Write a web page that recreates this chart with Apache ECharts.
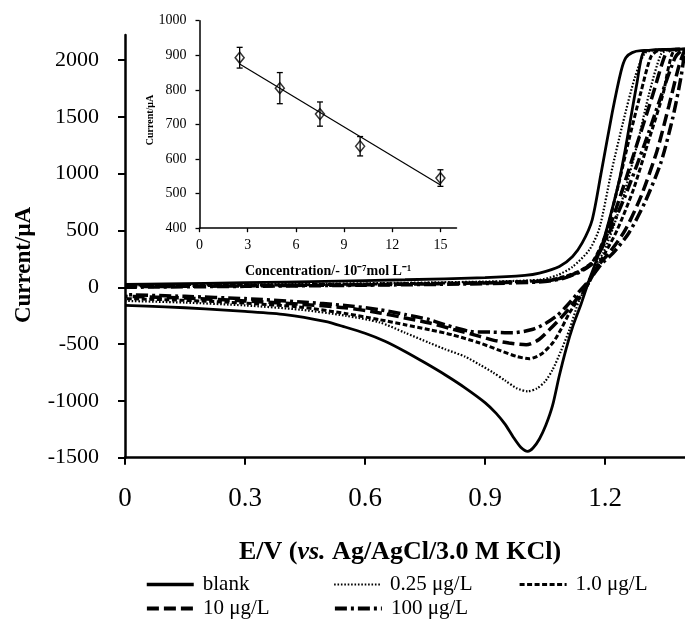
<!DOCTYPE html>
<html><head><meta charset="utf-8">
<script src="https://cdn.jsdelivr.net/npm/echarts@6/dist/echarts.min.js"></script>
<style>html,body{margin:0;padding:0;background:#fff}#c{width:685px;height:622px}</style>
</head><body><div id="c"></div>
<script>
// ---- tick values ----
const potentialTicks = [0, 0.3, 0.6, 0.9, 1.2];
const currentTicks = [-1500, -1000, -500, 0, 500, 1000, 1500, 2000];
const insetXTicks = [0, 3, 6, 9, 12, 15];
const insetYTicks = [400, 500, 600, 700, 800, 900, 1000];

// ---- blank ----
const blankFwdE = [0, 0.1, 0.3, 0.5, 0.7, 0.9, 1.0, 1.036, 1.086, 1.119, 1.143, 1.168, 1.19, 1.218, 1.24, 1.252, 1.268, 1.29, 1.4];
const blankFwdI = [25, 30, 40, 52, 66, 85, 105, 125, 183, 271, 390, 594, 1000, 1535, 1900, 2020, 2065, 2082, 2095];
const blankRevE = [1.4, 1.32, 1.295, 1.28, 1.265, 1.25, 1.236, 1.215, 1.195, 1.178, 1.16, 1.14, 1.12, 1.103, 1.085, 1.069, 1.052, 1.036, 1.02, 1.007, 0.99, 0.97, 0.95, 0.928, 0.9, 0.85, 0.8, 0.75, 0.7, 0.65, 0.6, 0.55, 0.5, 0.4, 0.3, 0.2, 0.1, 0];
const blankRevI = [2095, 2090, 2060, 1800, 1500, 1200, 945, 650, 400, 230, 60, -150, -340, -540, -790, -1040, -1215, -1335, -1415, -1444, -1410, -1315, -1205, -1110, -1015, -885, -770, -665, -565, -475, -405, -350, -300, -240, -212, -190, -172, -160];

// ---- 0.25 µg/L ----
const c025FwdE = [0, 0.3, 0.6, 0.9, 1.036, 1.08, 1.119, 1.161, 1.186, 1.215, 1.245, 1.275, 1.3, 1.33, 1.4];
const c025FwdI = [15, 25, 35, 50, 66, 105, 180, 330, 520, 1000, 1450, 1850, 2060, 2090, 2095];
const c025RevE = [1.4, 1.36, 1.34, 1.31, 1.28, 1.25, 1.22, 1.195, 1.178, 1.16, 1.136, 1.111, 1.09, 1.069, 1.05, 1.03, 1.007, 0.98, 0.95, 0.92, 0.887, 0.85, 0.8, 0.762, 0.7, 0.637, 0.55, 0.44, 0.3, 0.15, 0];
const c025RevI = [2095, 2090, 2050, 1700, 1250, 850, 520, 300, 200, 40, -110, -374, -560, -726, -830, -890, -916, -890, -820, -750, -682, -610, -545, -491, -400, -310, -250, -198, -160, -135, -120];

// ---- 1.0 µg/L ----
const c1FwdE = [0, 0.3, 0.6, 0.9, 1.05, 1.1, 1.14, 1.17, 1.2, 1.23, 1.26, 1.29, 1.315, 1.335, 1.4];
const c1FwdI = [10, 18, 28, 42, 60, 95, 150, 230, 450, 850, 1300, 1720, 2030, 2085, 2095];
const c1RevE = [1.4, 1.37, 1.345, 1.31, 1.27, 1.23, 1.2, 1.18, 1.16, 1.135, 1.111, 1.09, 1.069, 1.04, 1.011, 0.98, 0.94, 0.887, 0.82, 0.762, 0.7, 0.637, 0.55, 0.44, 0.3, 0.15, 0];
const c1RevI = [2095, 2070, 1700, 1300, 850, 500, 300, 180, 40, -100, -226, -370, -491, -590, -629, -610, -560, -491, -420, -374, -330, -286, -230, -175, -140, -115, -100];

// ---- 10 µg/L ----
const c10FwdE = [0, 0.3, 0.6, 0.9, 1.05, 1.1, 1.14, 1.17, 1.2, 1.24, 1.28, 1.32, 1.35, 1.365, 1.4];
const c10FwdI = [5, 12, 22, 38, 55, 88, 145, 220, 420, 820, 1260, 1700, 2040, 2090, 2095];
const c10RevE = [1.4, 1.385, 1.36, 1.33, 1.29, 1.25, 1.21, 1.185, 1.16, 1.13, 1.1, 1.069, 1.035, 1.003, 0.96, 0.92, 0.887, 0.82, 0.762, 0.7, 0.637, 0.55, 0.44, 0.3, 0.15, 0];
const c10RevI = [2095, 1950, 1600, 1200, 800, 500, 300, 200, 50, -100, -230, -345, -460, -506, -490, -465, -432, -370, -315, -270, -226, -180, -150, -120, -95, -80];

// ---- 100 µg/L ----
const c100FwdE = [0, 0.3, 0.6, 0.9, 1.05, 1.1, 1.14, 1.17, 1.2, 1.25, 1.3, 1.34, 1.375, 1.39, 1.4];
const c100FwdI = [0, 8, 18, 32, 50, 82, 140, 215, 400, 800, 1270, 1680, 2020, 2080, 2090];
const c100RevE = [1.4, 1.39, 1.37, 1.34, 1.3, 1.26, 1.22, 1.19, 1.16, 1.13, 1.103, 1.08, 1.053, 1.02, 0.97, 0.92, 0.862, 0.8, 0.762, 0.7, 0.637, 0.55, 0.44, 0.3, 0.15, 0];
const c100RevI = [2090, 1850, 1500, 1100, 750, 480, 300, 200, 60, -60, -169, -250, -315, -370, -400, -395, -388, -330, -286, -240, -198, -160, -130, -100, -80, -65];

// ---- inset calibration ----
const concX = [2.5, 5, 7.5, 10, 15];
const concI = [893, 805, 730, 637, 545];
const concErr = [30, 45, 35, 28, 24];
const fitX = [2.5, 15];
const fitI = [875, 525];

const legendNames = ['blank', '0.25 μg/L', '1.0 μg/L', '10 μg/L', '100 μg/L'];

function pairs(xs, ys) { return xs.map((x, k) => [x, ys[k]]); }
function loop(fe, fi, re, ri) { return pairs(fe, fi).concat(pairs(re, ri)); }

const SERIF = 'Liberation Serif';
const chart = echarts.init(document.getElementById('c'), null, {renderer: 'canvas'});

function cvSeries(name, data, width, type) {
  return {
    type: 'line', name: name, xAxisIndex: 0, yAxisIndex: 0, data: data,
    symbol: 'none', showSymbol: false, smooth: 0.25,
    lineStyle: {color: '#000', width: width, type: type, cap: 'butt'},
    itemStyle: {color: '#000'},
    emphasis: {disabled: true}
  };
}

function legendAt(name, left, top, lw) {
  return {
    data: [name], left: left, top: top,
    itemWidth: 47, itemHeight: 14, padding: 0, selectedMode: false,
    itemStyle: {opacity: 0},
    lineStyle: {width: lw},
    textStyle: {fontFamily: SERIF, fontSize: 21, color: '#000', padding: [0, 0, 0, 4]}
  };
}

const option = {
  animation: false,
  backgroundColor: '#fff',
  grid: [
    {left: 125, right: 0, top: 35, bottom: 164.3},
    {left: 199.5, top: 20.7, width: 257, height: 207.5}
  ],
  xAxis: [
    {type: 'value', gridIndex: 0, min: 0, max: 1.4,
     axisLine: {onZero: false, lineStyle: {color: '#000', width: 2.5}},
     axisTick: {customValues: potentialTicks, length: 7, lineStyle: {color: '#000', width: 2}},
     axisLabel: {customValues: potentialTicks, formatter: v => String(v), fontFamily: SERIF, fontSize: 27, color: '#000', margin: 28},
     splitLine: {show: false}},
    {type: 'value', gridIndex: 1, min: 0, max: 16,
     axisLine: {onZero: false, lineStyle: {color: '#000', width: 1.5}},
     axisTick: {customValues: insetXTicks, length: 4, lineStyle: {color: '#000', width: 1.3}},
     axisLabel: {customValues: insetXTicks, formatter: v => String(v), fontFamily: SERIF, fontSize: 14, color: '#000', margin: 10},
     splitLine: {show: false}}
  ],
  yAxis: [
    {type: 'value', gridIndex: 0, min: -1500, max: 2220,
     axisLine: {show: true, onZero: false, lineStyle: {color: '#000', width: 2.5}},
     axisTick: {show: true, customValues: currentTicks, length: 7, lineStyle: {color: '#000', width: 2}},
     axisLabel: {customValues: currentTicks, formatter: v => String(v), fontFamily: SERIF, fontSize: 22, color: '#000', margin: 26},
     splitLine: {show: false}},
    {type: 'value', gridIndex: 1, min: 400, max: 1000,
     axisLine: {show: true, onZero: false, lineStyle: {color: '#000', width: 1.5}},
     axisTick: {show: true, customValues: insetYTicks, length: 4, lineStyle: {color: '#000', width: 1.3}},
     axisLabel: {customValues: insetYTicks, formatter: v => String(v), fontFamily: SERIF, fontSize: 14, color: '#000', margin: 13},
     splitLine: {show: false}}
  ],
  legend: [
    legendAt(legendNames[0], 145, 574, 3.5),
    legendAt(legendNames[1], 333, 574, 2.2),
    legendAt(legendNames[2], 518, 574, 3.2),
    legendAt(legendNames[3], 145, 598, 3.8),
    legendAt(legendNames[4], 333, 598, 3.8)
  ],
  graphic: [
    {type: 'text', x: 24, y: 265, rotation: Math.PI / 2,
     style: {text: 'Current/μA', fontFamily: SERIF, fontWeight: 'bold', fontSize: 23, fill: '#000', align: 'center', verticalAlign: 'middle'}},
    {type: 'text', x: 400, y: 552,
     style: {text: '{b|E/V (}{i|vs.}{b| Ag/AgCl/3.0 M KCl)}', align: 'center', verticalAlign: 'middle',
       rich: {b: {fontFamily: SERIF, fontWeight: 'bold', fontSize: 26, fill: '#000'},
              i: {fontFamily: SERIF, fontWeight: 'bold', fontStyle: 'italic', fontSize: 26, fill: '#000'}}}},
    {type: 'text', x: 150, y: 120, rotation: Math.PI / 2,
     style: {text: 'Current/μA', fontFamily: SERIF, fontWeight: 'bold', fontSize: 10, fill: '#000', align: 'center', verticalAlign: 'middle'}},
    {type: 'text', x: 328, y: 271,
     style: {text: 'Concentration/- 10⁻⁷mol L⁻¹', fontFamily: SERIF, fontWeight: 'bold', fontSize: 14, fill: '#000', align: 'center', verticalAlign: 'middle'}}
  ],
  series: [
    cvSeries(legendNames[0], loop(blankFwdE, blankFwdI, blankRevE, blankRevI), 2.8, 'solid'),
    cvSeries(legendNames[1], loop(c025FwdE, c025FwdI, c025RevE, c025RevI), 2.2, [1.6, 1.8]),
    cvSeries(legendNames[2], loop(c1FwdE, c1FwdI, c1RevE, c1RevI), 3, [5, 2.5]),
    cvSeries(legendNames[3], loop(c10FwdE, c10FwdI, c10RevE, c10RevI), 3.5, [12, 5]),
    cvSeries(legendNames[4], loop(c100FwdE, c100FwdI, c100RevE, c100RevI), 3.5, [12, 4, 3, 4]),
    {type: 'line', xAxisIndex: 1, yAxisIndex: 1, data: pairs(fitX, fitI), symbol: 'none',
     lineStyle: {color: '#000', width: 1.2}, emphasis: {disabled: true}, z: 4},
    {type: 'custom', xAxisIndex: 1, yAxisIndex: 1, z: 5,
     data: concX.map((x, k) => [x, concI[k] - concErr[k], concI[k] + concErr[k]]),
     renderItem: function (params, api) {
       const x = api.value(0);
       const lo = api.coord([x, api.value(1)]);
       const hi = api.coord([x, api.value(2)]);
       const w = 3;
       const st = {stroke: '#000', lineWidth: 1.3};
       return {type: 'group', children: [
         {type: 'line', shape: {x1: lo[0], y1: lo[1], x2: hi[0], y2: hi[1]}, style: st},
         {type: 'line', shape: {x1: lo[0] - w, y1: lo[1], x2: lo[0] + w, y2: lo[1]}, style: st},
         {type: 'line', shape: {x1: hi[0] - w, y1: hi[1], x2: hi[0] + w, y2: hi[1]}, style: st}
       ]};
     }},
    {type: 'scatter', xAxisIndex: 1, yAxisIndex: 1, data: pairs(concX, concI), z: 6,
     symbol: 'diamond', symbolSize: [9, 11],
     itemStyle: {color: 'rgba(255,255,255,0)', borderColor: '#000', borderWidth: 1.5},
     emphasis: {disabled: true}}
  ]
};
chart.setOption(option);
</script></body></html>
